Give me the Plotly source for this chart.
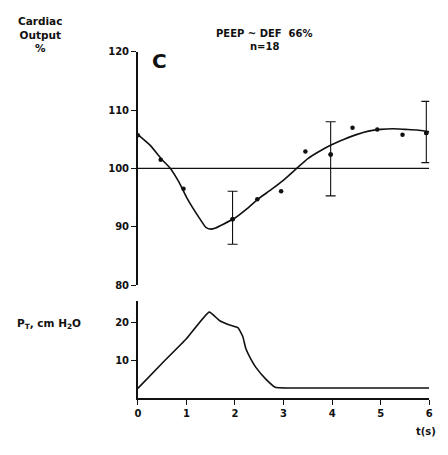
import plotly.graph_objects as go

# Cardiac output (% of baseline): measured points
t_pts = [0.0, 0.47, 0.94, 1.95, 2.46, 2.95, 3.45, 3.97, 4.42, 4.93, 5.45, 5.94]
co_pts = [105.7, 101.5, 96.5, 91.3, 94.7, 96.1, 102.9, 102.4, 107.0, 106.7, 105.8, 106.1]

# standard-error bars at selected times
t_err = [1.95, 3.97, 5.94]
co_err_mid = [91.3, 102.4, 106.1]
co_err_hi = [96.1, 108.0, 111.5]
co_err_lo = [87.0, 95.3, 101.0]

# smoothed cardiac output curve
t_fit = [0.0, 0.25, 0.5, 0.67, 0.85, 1.0, 1.25, 1.4, 1.5, 1.6, 1.75, 2.0, 2.25, 2.5, 2.75, 3.0,
         3.27, 3.5, 3.75, 4.0, 4.25, 4.5, 4.75, 5.0, 5.25, 5.5, 5.75, 6.0]
co_fit = [105.8, 104.0, 101.5, 100.0, 97.6, 95.1, 91.7, 89.9, 89.6, 89.8, 90.4, 91.5, 93.1, 94.9,
          96.4, 98.0, 100.0, 101.7, 103.0, 104.1, 105.0, 105.8, 106.4, 106.7, 106.8, 106.7, 106.6, 106.3]

# transpulmonary pressure P_T (cm H2O)
t_pt = [0.0, 0.5, 1.0, 1.47, 1.68, 1.89, 2.06, 2.16, 2.22, 2.33, 2.43, 2.63, 2.83, 3.3, 4.0, 5.0, 6.0]
pt = [2.6, 9.2, 15.6, 22.6, 20.4, 19.2, 18.5, 16.2, 13.2, 10.2, 8.1, 5.1, 2.9, 2.7, 2.7, 2.7, 2.7]

baseline = [100, 100]
baseline_t = [0, 6]

top_ticks = [80, 90, 100, 110, 120]
bot_ticks = [10, 20]
x_ticks = [0, 1, 2, 3, 4, 5, 6]

W, H = 448, 455
ink = "#111111"
FONT = "DejaVu Sans"

def py(px):
    return 1 - px / H

def pxx(px):
    return px / W

fig = go.Figure()

fig.add_trace(go.Scatter(x=baseline_t, y=baseline, mode="lines",
                         line=dict(color=ink, width=1.3), xaxis="x", yaxis="y"))
fig.add_trace(go.Scatter(x=t_fit, y=co_fit, mode="lines", line_shape="spline",
                         line=dict(color=ink, width=1.6, smoothing=0.5), xaxis="x", yaxis="y"))
fig.add_trace(go.Scatter(x=t_pts, y=co_pts, mode="markers",
                         marker=dict(color=ink, size=4.5), xaxis="x", yaxis="y"))
fig.add_trace(go.Scatter(
    x=t_err, y=co_err_mid, mode="markers", marker=dict(color=ink, size=4.5),
    error_y=dict(type="data", symmetric=False,
                 array=[h - m for h, m in zip(co_err_hi, co_err_mid)],
                 arrayminus=[m - l for m, l in zip(co_err_mid, co_err_lo)],
                 color=ink, thickness=1.1, width=5),
    xaxis="x", yaxis="y"))

fig.add_trace(go.Scatter(x=t_pt, y=pt, mode="lines", line_shape="spline",
                         line=dict(color=ink, width=1.6, smoothing=0.4), xaxis="x2", yaxis="y2"))

xdom = [pxx(137), pxx(433)]
fig.update_layout(
    width=W, height=H, showlegend=False,
    margin=dict(l=0, r=0, t=0, b=0),
    paper_bgcolor="white", plot_bgcolor="rgba(0,0,0,0)",
    font=dict(family=FONT, color=ink, size=10, weight="bold"),
    xaxis=dict(domain=xdom, range=[0, 6], visible=False, anchor="y"),
    yaxis=dict(domain=[py(287), py(48)], range=[80, 120], anchor="x",
               tickvals=top_ticks, ticks="outside", ticklen=5, tickwidth=1.3,
               tickcolor=ink, showline=True, linecolor=ink, linewidth=1.6,
               showgrid=False, zeroline=False, tickfont=dict(size=10)),
    xaxis2=dict(domain=xdom, range=[0, 6], anchor="y2",
                tickvals=x_ticks, ticks="outside", ticklen=5, tickwidth=1.3,
                tickcolor=ink, showline=True, linecolor=ink, linewidth=1.6,
                showgrid=False, zeroline=False, tickfont=dict(size=10)),
    yaxis2=dict(domain=[py(403), py(303)], range=[0, 25.6], anchor="x2",
                tickvals=bot_ticks, ticks="outside", ticklen=5, tickwidth=1.3,
                tickcolor=ink, showline=True, linecolor=ink, linewidth=1.6,
                showgrid=False, zeroline=False, tickfont=dict(size=10)),
)

annotations = [
    dict(text="Cardiac<br>Output<br>%", x=pxx(38), y=py(8), xanchor="center", yanchor="top",
         font=dict(size=10.5), align="center"),
    dict(text="PEEP ~ DEF  66%", x=pxx(266), y=py(29), xanchor="center", yanchor="middle",
         font=dict(size=10)),
    dict(text="n=18", x=pxx(266), y=py(43), xanchor="center", yanchor="middle",
         font=dict(size=10)),
    dict(text="C", x=pxx(159), y=py(57), xanchor="center", yanchor="middle",
         font=dict(size=20)),
    dict(text="P<sub>T</sub>, cm H<sub>2</sub>O", x=pxx(12), y=py(327), xanchor="left",
         yanchor="middle", font=dict(size=10.5)),
    dict(text="t(s)", x=pxx(430), y=py(437), xanchor="center", yanchor="middle",
         font=dict(size=10)),
]
for a in annotations:
    a.update(xref="paper", yref="paper", showarrow=False)
fig.update_layout(annotations=annotations)

fig.write_html("out.html")
